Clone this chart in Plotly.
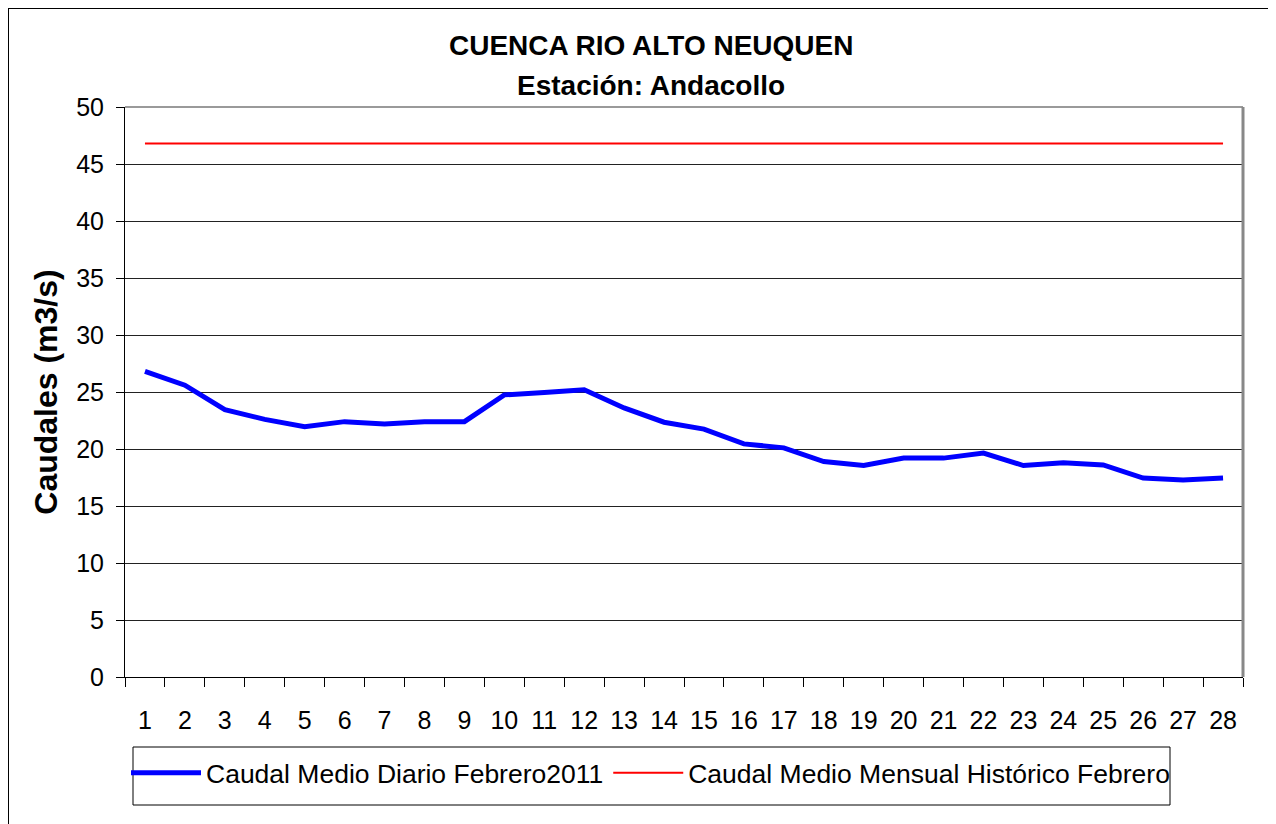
import plotly.graph_objects as go

days = [str(d) for d in range(1, 29)]
caudal_diario = [26.8, 25.6, 23.45, 22.6, 21.95, 22.4, 22.2, 22.4, 22.4, 24.75,
                 24.95, 25.2, 23.6, 22.35, 21.75, 20.45, 20.1, 18.9, 18.55, 19.2,
                 19.2, 19.65, 18.55, 18.8, 18.6, 17.45, 17.27, 17.45]
caudal_historico = [46.8] * 28

name_diario = "Caudal Medio Diario Febrero2011"
name_hist = "Caudal Medio Mensual Histórico Febrero"
title1 = "CUENCA RIO ALTO NEUQUEN"
title2 = "Estación: Andacollo"
y_title = "Caudales (m3/s)"
y_ticks = list(range(0, 51, 5))

OFF = 8  # page body margin
W, H = 1276 - OFF, 824 - OFF
# plot area in page pixels
PL, PR, PT, PB = 125, 1243, 107, 677
L, R, T, B = PL - OFF, PR - OFF, PT - OFF, PB - OFF
pw, ph = R - L, B - T


def px(x):
    return (x - PL) / pw


def py(y):
    return (PB - y) / ph


fig = go.Figure()
fig.add_trace(go.Scatter(x=days, y=caudal_diario, mode="lines", name=name_diario,
                         line=dict(color="#0000FF", width=5)))
fig.add_trace(go.Scatter(x=days, y=caudal_historico, mode="lines", name=name_hist,
                         line=dict(color="#FF0000", width=2)))

font_family = "Liberation Sans, Arial, sans-serif"

fig.update_layout(
    width=W, height=H,
    margin=dict(l=L, r=W - R, t=T, b=H - B),
    paper_bgcolor="white", plot_bgcolor="white",
    font=dict(family=font_family, color="black"),
    showlegend=True,
    legend=dict(orientation="h", x=px(126), y=py(749), xanchor="left", yanchor="top",
                font=dict(size=26.5, family=font_family), bgcolor="rgba(0,0,0,0)",
                borderwidth=0, itemwidth=70, traceorder="normal"),
    xaxis=dict(type="category", range=[-0.5, len(days) - 0.5], tickson="boundaries",
               ticks="outside", ticklen=9,
               tickcolor="black", showline=True, linecolor="black", linewidth=1,
               showgrid=False, tickfont=dict(size=25), ticklabelstandoff=21,
               zeroline=False),
    yaxis=dict(range=[0, 50], tickvals=y_ticks, ticks="outside", ticklen=8,
               tickcolor="black", showline=True, linecolor="black", linewidth=1,
               showgrid=True, gridcolor="#222222", gridwidth=1,
               tickfont=dict(size=25), ticklabelstandoff=7, zeroline=False,
               title=dict(text=y_title, font=dict(size=32, family=font_family,
                                                  weight="bold"), standoff=8)),
    annotations=[
        dict(text=f"<b>{title1}</b>", x=px(651), y=py(46), xref="paper", yref="paper",
             showarrow=False, font=dict(size=28, family=font_family), xanchor="center",
             yanchor="middle"),
        dict(text=f"<b>{title2}</b>", x=px(651), y=py(85), xref="paper", yref="paper",
             showarrow=False, font=dict(size=28, family=font_family), xanchor="center",
             yanchor="middle"),
    ],
    shapes=[
        # top & right plot border (grey)
        dict(type="line", xref="paper", yref="paper", x0=0, x1=1, y0=1, y1=1,
             line=dict(color="#9a9a9a", width=2)),
        dict(type="line", xref="paper", yref="paper", x0=1, x1=1, y0=0, y1=1,
             line=dict(color="#888888", width=3)),
        # legend box
        dict(type="rect", xref="paper", yref="paper", x0=px(133), x1=px(1170),
             y0=py(805), y1=py(747), line=dict(color="black", width=1)),
        # outer chart border
        dict(type="rect", xref="paper", yref="paper", x0=px(8), x1=px(1275),
             y0=py(840), y1=py(8), line=dict(color="black", width=2)),
    ],
)

fig.write_html("out.html")
